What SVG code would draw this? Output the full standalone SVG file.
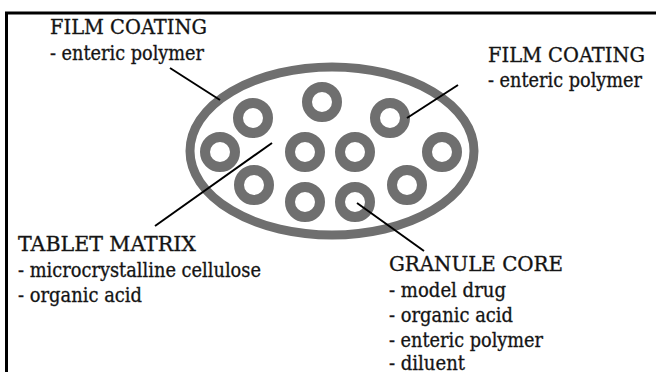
<svg xmlns="http://www.w3.org/2000/svg" width="656" height="372" viewBox="0 0 656 372">
<style>
.frame{fill:none;stroke:#000;stroke-width:3}
.coat{fill:none;stroke:#6f6f6f;stroke-width:9}
.ring{fill:none;stroke:#6f6f6f;stroke-width:10}
.lead{stroke:#000;stroke-width:2;fill:none}
.t{font-family:'DejaVu Serif','Noto Serif','Liberation Serif',serif;font-size:20px;fill:#111;stroke:#222;stroke-width:0.35}
</style>
<rect width="656" height="372" fill="#fff"/>
<path class="frame" d="M6.5,372 V13 H656"/>
<g id="tablet">
<ellipse class="coat" cx="332" cy="151" rx="142" ry="84"/>
<circle class="ring" cx="253" cy="118" r="15"/>
<circle class="ring" cx="322" cy="102" r="15"/>
<circle class="ring" cx="390" cy="118" r="15"/>
<circle class="ring" cx="220" cy="152" r="15"/>
<circle class="ring" cx="305" cy="152" r="15"/>
<circle class="ring" cx="355" cy="152" r="15"/>
<circle class="ring" cx="442" cy="152" r="15"/>
<circle class="ring" cx="254" cy="185" r="15"/>
<circle class="ring" cx="305" cy="202" r="15"/>
<circle class="ring" cx="355" cy="202" r="15"/>
<circle class="ring" cx="407" cy="185" r="15"/>
</g>
<g id="connectors">
<line class="lead" x1="170" y1="68" x2="220" y2="100"/>
<line class="lead" x1="458" y1="85" x2="407" y2="118"/>
<line class="lead" x1="272" y1="143" x2="155" y2="226"/>
<line class="lead" x1="357" y1="203" x2="424" y2="251"/>
</g>
<g id="film-coating-left" class="t">
<text x="50" y="34" textLength="157" lengthAdjust="spacingAndGlyphs">FILM COATING</text>
<text x="50" y="59.5" textLength="154" lengthAdjust="spacingAndGlyphs">- enteric polymer</text>
</g>
<g id="film-coating-right" class="t">
<text x="488" y="61.5" textLength="157" lengthAdjust="spacingAndGlyphs">FILM COATING</text>
<text x="488" y="87" textLength="154" lengthAdjust="spacingAndGlyphs">- enteric polymer</text>
</g>
<g id="tablet-matrix" class="t">
<text x="18" y="251" textLength="178" lengthAdjust="spacingAndGlyphs">TABLET MATRIX</text>
<text x="18" y="276.5" textLength="243" lengthAdjust="spacingAndGlyphs">- microcrystalline cellulose</text>
<text x="18" y="302" textLength="124" lengthAdjust="spacingAndGlyphs">- organic acid</text>
</g>
<g id="granule-core" class="t">
<text x="389" y="271" textLength="174" lengthAdjust="spacingAndGlyphs">GRANULE CORE</text>
<text x="389" y="296.5" textLength="117" lengthAdjust="spacingAndGlyphs">- model drug</text>
<text x="389" y="321.5" textLength="124" lengthAdjust="spacingAndGlyphs">- organic acid</text>
<text x="389" y="347" textLength="154" lengthAdjust="spacingAndGlyphs">- enteric polymer</text>
<text x="389" y="370" textLength="76" lengthAdjust="spacingAndGlyphs">- diluent</text>
</g>
</svg>
